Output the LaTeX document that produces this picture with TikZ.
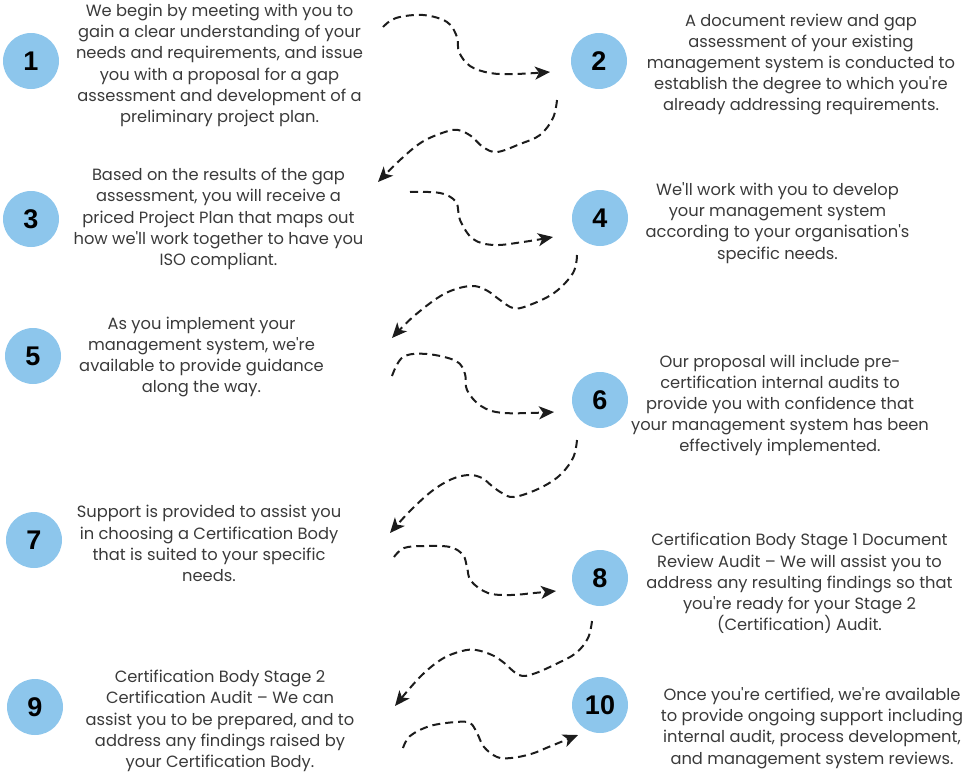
\documentclass[tikz,border=0pt]{standalone}
\usepackage{fontspec}
\setmainfont{Poppins}
\newfontfamily\numfont{Liberation Sans}
\usetikzlibrary{arrows.meta}
\definecolor{circblue}{RGB}{141,198,236}
\definecolor{txtgray}{RGB}{58,58,58}
\definecolor{arrowblack}{RGB}{28,28,28}
\newcommand{\apos}{\textquotesingle}
\begin{document}
\begin{tikzpicture}[x=1pt,y=-1pt,
  numcirc/.style={circle, fill=circblue, minimum size=56pt, inner sep=0pt,
    font=\numfont\bfseries\fontsize{27}{27}\selectfont, text=black},
  desc/.style={align=center, text=txtgray, inner sep=0pt,
    font=\fontsize{16.3}{21.2}\selectfont},
  flow/.style={draw=arrowblack, line width=2pt, dash pattern=on 8pt off 5pt,
    -{Stealth[length=15pt,width=13pt,inset=4pt]}}]
\useasboundingbox (0,0) rectangle (977,774);

% circles
\node[numcirc] (c1) at (31,61) {1};
\node[numcirc] (c2) at (599,61) {2};
\node[numcirc] (c3) at (31,219) {3};
\node[numcirc] (c4) at (600,218) {4};
\node[numcirc] (c5) at (33,356) {5};
\node[numcirc] (c6) at (600,400) {6};
\node[numcirc] (c7) at (34,540) {7};
\node[numcirc] (c8) at (600,578) {8};
\node[numcirc] (c9) at (35,707) {9};
\node[numcirc] (c10) at (600,705) {10};

% texts
\node[desc] (t1) at (219.5,65.5) {We begin by meeting with you to\\gain a clear understanding of your\\needs and requirements, and issue\\you with a proposal for a gap\\assessment and development of a\\preliminary project plan.};
\node[desc] (t2) at (801,64.5) {A document review and gap\\assessment of your existing\\management system is conducted to\\establish the degree to which you\apos re\\already addressing requirements.};
\node[desc] (t3) at (218.5,219) {Based on the results of the gap\\assessment, you will receive a\\priced Project Plan that maps out\\how we\apos ll work together to have you\\ISO compliant.};
\node[desc] (t4) at (777.5,223) {We\apos ll work with you to develop\\your management system\\according to your organisation\apos s\\specific needs.};
\node[desc] (t5) at (201.5,357) {As you implement your\\management system, we\apos re\\available to provide guidance\\along the way.};
\node[desc] (t6) at (780,405.5) {Our proposal will include pre-\\certification internal audits to\\provide you with confidence that\\your management system has been\\effectively implemented.};
\node[desc] (t7) at (209,543.5) {Support is provided to assist you\\in choosing a Certification Body\\that is suited to your specific\\needs.};
\node[desc] (t8) at (799.5,583.5) {Certification Body Stage 1 Document\\Review Audit -- We will assist you to\\address any resulting findings so that\\you\apos re ready for your Stage 2\\(Certification) Audit.};
\node[desc] (t9) at (220,721) {Certification Body Stage 2\\Certification Audit -- We can\\assist you to be prepared, and to\\address any findings raised by\\your Certification Body.};
\node[desc] (t10) at (812,728) {Once you\apos re certified, we\apos re available\\to provide ongoing support including\\internal audit, process development,\\and management system reviews.};

% arrow end points
\coordinate (a1s) at (383,27);  \coordinate (a1e) at (550,72);
\coordinate (a2s) at (557,100); \coordinate (a2e) at (378,182);
\coordinate (a3s) at (410,192); \coordinate (a3e) at (553,237);
\coordinate (a4s) at (577,255); \coordinate (a4e) at (392,338);
\coordinate (a5s) at (392,376); \coordinate (a5e) at (554,412);
\coordinate (a6s) at (577,440); \coordinate (a6e) at (390,533);
\coordinate (a7s) at (394,557); \coordinate (a7e) at (556,591);
\coordinate (a8s) at (592,621); \coordinate (a8e) at (395,706);
\coordinate (a9s) at (403,748); \coordinate (a9e) at (578,735);

% connectors
\draw[flow] plot[smooth, tension=0.6] coordinates {(a1s) (396,18) (423,15) (447,22) (457,37) (459,52) (470,66) (490,73) (515,74) (a1e)};
\draw[flow] plot[smooth, tension=0.6] coordinates {(a2s) (553,118) (540,135) (520,144) (497,152) (483,147) (471,136) (458,130) (445,132) (422,142) (400,160) (a2e)};
\draw[flow] plot[smooth, tension=0.6] coordinates {(a3s) (440,193) (456,202) (460,220) (473,239) (494,245) (523,242) (a3e)};
\draw[flow] plot[smooth, tension=0.6] coordinates {(a4s) (573,273) (554,293) (527,306) (513,308) (500,300) (486,290) (470,286) (444,294) (414,316) (a4e)};
\draw[flow] plot[smooth, tension=0.6] coordinates {(a5s) (403,357) (427,354) (456,361) (465,374) (467,390) (481,406) (504,413) (a5e)};
\draw[flow] plot[smooth, tension=0.6] coordinates {(a6s) (573,458) (559,476) (538,489) (514,497) (502,493) (492,486) (482,478) (469,475) (452,479) (432,491) (410,511) (a6e)};
\draw[flow] plot[smooth, tension=0.6] coordinates {(a7s) (404,548) (424,546) (450,547) (463,555) (467,567) (471,581) (488,593) (511,595) (534,593) (a7e)};
\draw[flow] plot[smooth, tension=0.6] coordinates {(a8s) (588,638) (576,653) (556,664) (533,674) (519,675) (503,662) (492,655) (476,650) (462,651) (442,659) (420,677) (a8e)};
\draw[flow] plot[smooth, tension=0.6] coordinates {(a9s) (410,736) (430,726) (456,722) (470,723) (477,733) (484,747) (497,757) (511,758) (531,754) (551,746) (a9e)};
\end{tikzpicture}
\end{document}
